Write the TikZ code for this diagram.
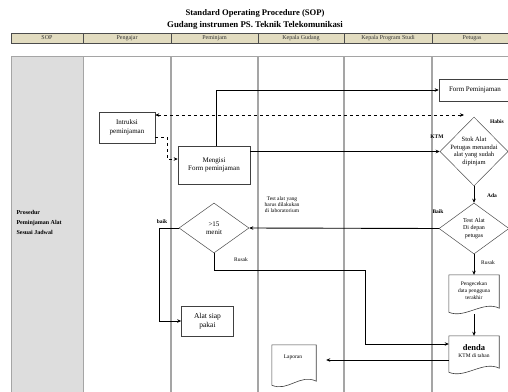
\documentclass[tikz,border=0pt]{standalone}
\usepackage{fontspec}
\setmainfont{Liberation Serif}
\usetikzlibrary{shapes.geometric,arrows.meta}

\definecolor{hdrfill}{RGB}{226,220,192}
\definecolor{sopfill}{RGB}{221,221,221}
\definecolor{lanegray}{RGB}{165,165,165}

\tikzset{
  box/.style={draw=black!75, line width=0.6pt, fill=white, align=center,
    inner sep=1pt, font=\fontsize{7}{8.5}\selectfont},
  decision/.style={diamond, draw=black!70, line width=0.5pt, inner sep=0pt},
  dectext/.style={align=center, font=\fontsize{6.5}{7.5}\selectfont},
  docbox/.style={draw=none, align=center, inner sep=1pt,
    font=\fontsize{5.5}{7}\selectfont},
  flow/.style={->, line width=0.9pt},
  dashflow/.style={dashed, line width=0.9pt},
  tag/.style={font=\fontsize{5.5}{6.5}\selectfont\bfseries, inner sep=0.5pt},
  lanehead/.style={font=\fontsize{6}{7}\selectfont, text=black!80},
}

% document shape with a wavy bottom
\newcommand{\docoutline}[1]{%
  \draw[line width=0.6pt, draw=black!75, fill=white]
    ([yshift=-2pt]#1.south west) -- (#1.north west) -- (#1.north east)
    -- ([yshift=2pt]#1.south east)
    .. controls +(-16pt,8pt) and +(16pt,-7pt) .. ([yshift=-2pt]#1.south west);
}

\begin{document}
\begin{tikzpicture}[x=1pt, y=-1pt, >={Stealth[length=4pt,width=3.5pt]}]

    \useasboundingbox (0,0) rectangle (508,391);

    % judul
    \node[font=\fontsize{8.6}{10}\selectfont\bfseries] (title1) at (255,13)
        {Standard Operating Procedure (SOP)};
    \node[font=\fontsize{8.8}{10}\selectfont\bfseries] (title2) at (255,25)
        {Gudang instrumen PS. Teknik Telekomunikasi};

    % baris kepala
    \filldraw[fill=hdrfill, draw=black!70, line width=0.6pt]
        (11,33) rectangle (512,43);
    \foreach \xb in {83,171,258,344,432}
        \draw[black!70, line width=0.9pt] (\xb,33) -- (\xb,43);
    \foreach \xa/\xb/\lane [count=\i] in {11/83/SOP, 83/171/Pengajar,
        171/258/Peminjam, 258/344/Kepala Gudang,
        344/432/Kepala Program Studi, 432/512/Petugas}
        \node[lanehead] (head\i) at ({(\xa+\xb)/2},38) {\lane};

    % jalur
    \filldraw[fill=sopfill, draw=lanegray, line width=1pt]
        (11,56) rectangle (83,395);
    \draw[lanegray, line width=1pt] (83,56) -- (512,56);
    \foreach \xb in {171,258,344,432}
        \draw[lanegray, line width=1.2pt] (\xb,56) -- (\xb,395);

    \node[anchor=west, align=left, font=\fontsize{6}{10}\selectfont\bfseries]
        (sop) at (13,222) {Prosedur\\Peminjaman Alat\\Sesuai Jadwal};

    % proses
    \node[box, minimum width=72pt, minimum height=22pt] (form) at (475,90)
        {Form Peminjaman};
    \node[box, minimum width=56pt, minimum height=31pt] (intruksi) at (127,127.5)
        {Intruksi\\peminjaman};
    \node[box, minimum width=72pt, minimum height=38pt] (mengisi) at (214,165)
        {Mengisi\\Form peminjaman};
    \node[box, minimum width=52pt, minimum height=30pt,
        font=\fontsize{7.5}{9}\selectfont] (alat) at (207.5,321)
        {Alat siap\\pakai};

    % keputusan
    \node[decision, minimum width=68pt, minimum height=69pt,
        label={[dectext]center:Stok Alat\\Petugas menandai\\alat yang sudah\\dipinjam}]
        (stok) at (474,151.5) {};
    \node[decision, minimum width=70pt, minimum height=51pt,
        label={[dectext, font=\fontsize{6}{7.5}\selectfont]center:Test Alat\\Di depan\\petugas}]
        (test) at (474,228.5) {};
    \node[decision, minimum width=70pt, minimum height=50pt,
        label={[dectext, font=\fontsize{7}{8.5}\selectfont]center:>15\\menit}]
        (menit) at (214,228) {};

    % dokumen
    \node[docbox, minimum width=50pt, minimum height=35pt] (cek) at (474,292.5) {};
    \docoutline{cek}
    \node[docbox] (cektext) at (474,291) {Pengecekan\\data pengguna\\terakhir};
    \node[docbox, minimum width=50pt, minimum height=34pt] (denda) at (474,353) {};
    \docoutline{denda}
    \node[docbox] (dendatext) at (474,351)
        {{\fontsize{8.5}{9.5}\selectfont\bfseries denda}\\KTM di tahan};
    \node[docbox, minimum width=44pt, minimum height=38pt] (laporan) at (294,364) {};
    \docoutline{laporan}
    \node[docbox] (laportext) at (293,357) {Laporan};

    % alur
    \draw[flow] ([xshift=2pt]mengisi.north) |- (form.west);
    \coordinate (habis) at (464,115);
    \draw[dashflow, <->] (habis -| intruksi.east) -- (habis);
    \draw[dashflow, ->] ([yshift=-9.5pt]intruksi.east) -- ++(12,0)
        |- ([yshift=6pt]mengisi.west);
    \draw[flow] (mengisi.east |- stok.west) -- (stok.west);
    \draw[flow] (stok.south) -- (test.north);
    \draw[flow] (test.west) -- (menit.east);
    \draw[flow] (menit.west) -- ++(-19,0) |- (alat.west);
    \coordinate (bend) at (365,270);
    \draw[flow] (menit.south) |- (bend) |- ([yshift=9pt]denda.west);
    \draw[flow] (test.south) -- (cek.north);
    \draw[flow, shorten <=4pt] (cek.south) -- (denda.north);
    \coordinate (lapin) at ([yshift=-7pt]denda.west);
    \draw[flow, shorten >=10pt] (lapin) -- (lapin -| laporan.east);

    % keterangan
    \node[tag] (ktm) at (437,137) {KTM};
    \node[tag] (habistag) at (497,122) {Habis};
    \node[tag] (ada) at (492,196) {Ada};
    \node[tag] (baik1) at (438,212) {Baik};
    \node[tag] (baik2) at (162,222) {baik};
    \node[tag, font=\fontsize{5.5}{6.5}\selectfont] (rusak1) at (241,260) {Rusak};
    \node[tag, font=\fontsize{5.5}{6.5}\selectfont] (rusak2) at (488,263) {Rusak};
    \node[align=center, font=\fontsize{5.5}{6}\selectfont, inner sep=0pt]
        (lab) at (282,205) {Test alat yang\\harus dilakukan\\di laboratorium};

\end{tikzpicture}
\end{document}
